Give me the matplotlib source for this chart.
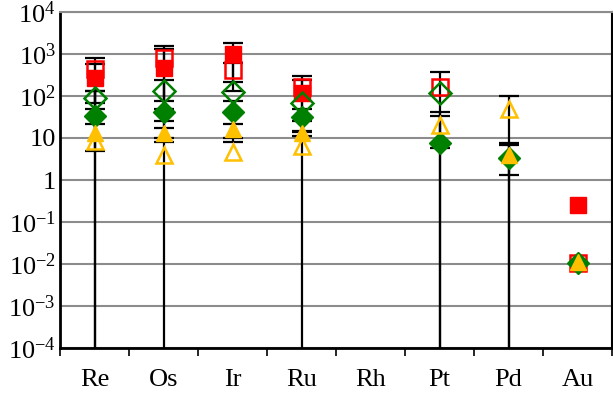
import numpy as np
import matplotlib
matplotlib.use("Agg")
import matplotlib.pyplot as plt
from matplotlib.ticker import FixedLocator, NullLocator

plt.rcParams['font.family'] = ['Liberation Serif', 'DejaVu Serif']
plt.rcParams['mathtext.fontset'] = 'custom'
plt.rcParams['mathtext.rm'] = 'Liberation Serif'

elements = ["Re", "Os", "Ir", "Ru", "Rh", "Pt", "Pd", "Au"]
nan = np.nan

# mean concentrations per element (NaN = not determined)
red_filled   = [265, 460, 1000, 120, nan, nan, nan, 0.25]
red_open     = [435, 800, 410, 160, nan, 160, nan, 0.0105]
green_open   = [92, 130, 123, 70, nan, 120, nan, nan]
green_filled = [33, 41, 41, 31, nan, 7.8, 3.3, 0.0105]
yellow_filled = [13, 13.5, 16, 13, nan, nan, 4.0, 0.011]
yellow_open  = [8.5, 4.0, 4.6, 6.3, nan, 20, 50, nan]

# one standard deviation for each mean
red_filled_sd   = [310, 840, 870, 125, nan, nan, nan, nan]
red_open_sd     = [365, 750, 195, 135, nan, 210, nan, nan]
green_open_sd   = [43, 105, nan, nan, nan, nan, nan, nan]
green_filled_sd = [102, 33, 33, 17, nan, 33, 4.3, nan]
yellow_filled_sd = [8, 3.5, 6, 2, nan, nan, 2.7, nan]
yellow_open_sd  = [nan, nan, nan, nan, nan, 14.3, 50, nan]

y_ticks = [1e-4, 1e-3, 1e-2, 1e-1, 1, 10, 1e2, 1e3, 1e4]
y_tick_labels = [r"$\mathregular{10^{-4}}$", r"$\mathregular{10^{-3}}$",
                 r"$\mathregular{10^{-2}}$", r"$\mathregular{10^{-1}}$",
                 "1", "10", r"$\mathregular{10^{2}}$",
                 r"$\mathregular{10^{3}}$", r"$\mathregular{10^{4}}$"]

RED = "#FF0000"
GREEN = "#008000"
GOLD = "#FFC000"

fig = plt.figure(figsize=(6.13, 4.03), dpi=100)
ax = fig.add_axes([60 / 613, 1 - 348 / 403, 552 / 613, 336 / 403])
ax.set_yscale("log", nonpositive="clip")
ax.set_ylim(1e-4, 1e4)
ax.set_xlim(-0.5, len(elements) - 0.5)

x = np.arange(len(elements))

series = [
    (red_filled, red_filled_sd, "s", RED, True, 11),
    (red_open, red_open_sd, "s", RED, False, 11),
    (green_open, green_open_sd, "D", GREEN, False, 11),
    (green_filled, green_filled_sd, "D", GREEN, True, 11),
    (yellow_filled, yellow_filled_sd, "^", GOLD, True, 12),
    (yellow_open, yellow_open_sd, "^", GOLD, False, 12),
]

# error bars first, markers on top
for vals, sd, *_ in series:
    v = np.array(vals, dtype=float)
    s = np.array(sd, dtype=float)
    m = ~np.isnan(v) & ~np.isnan(s)
    ax.errorbar(x[m], v[m], yerr=s[m], fmt="none", ecolor="black",
                elinewidth=1.6, capsize=7, capthick=1.6, zorder=3)

for vals, sd, mk, col, filled, ms in series:
    v = np.array(vals, dtype=float)
    if filled:
        ax.plot(x, v, linestyle="none", marker=mk, markersize=ms,
                markerfacecolor=col, markeredgecolor=col, zorder=4)
    else:
        ax.plot(x, v, linestyle="none", marker=mk, markersize=ms,
                markerfacecolor="none", markeredgecolor=col,
                markeredgewidth=1.8, zorder=4)

ax.yaxis.set_major_locator(FixedLocator(y_ticks))
ax.yaxis.set_minor_locator(NullLocator())
ax.set_yticklabels(y_tick_labels)
ax.tick_params(axis="y", length=0, pad=3, labelsize=19)
ax.grid(axis="y", color="#8c8c8c", linewidth=1.5, zorder=0)
ax.set_axisbelow(True)

ax.set_xticks(x)
ax.set_xticklabels(elements)
ax.set_xticks(np.arange(len(elements) + 1) - 0.5, minor=True)
ax.tick_params(axis="x", which="major", length=0, pad=15, labelsize=19)
ax.tick_params(axis="x", which="minor", length=6, width=1.2, direction="out")

for side in ["left", "bottom"]:
    ax.spines[side].set_linewidth(2)
    ax.spines[side].set_color("black")
ax.spines["top"].set_color("#8c8c8c")
ax.spines["top"].set_linewidth(1.5)
ax.spines["right"].set_color("black")
ax.spines["right"].set_linewidth(1.5)

fig.savefig("out.png", dpi=100)
